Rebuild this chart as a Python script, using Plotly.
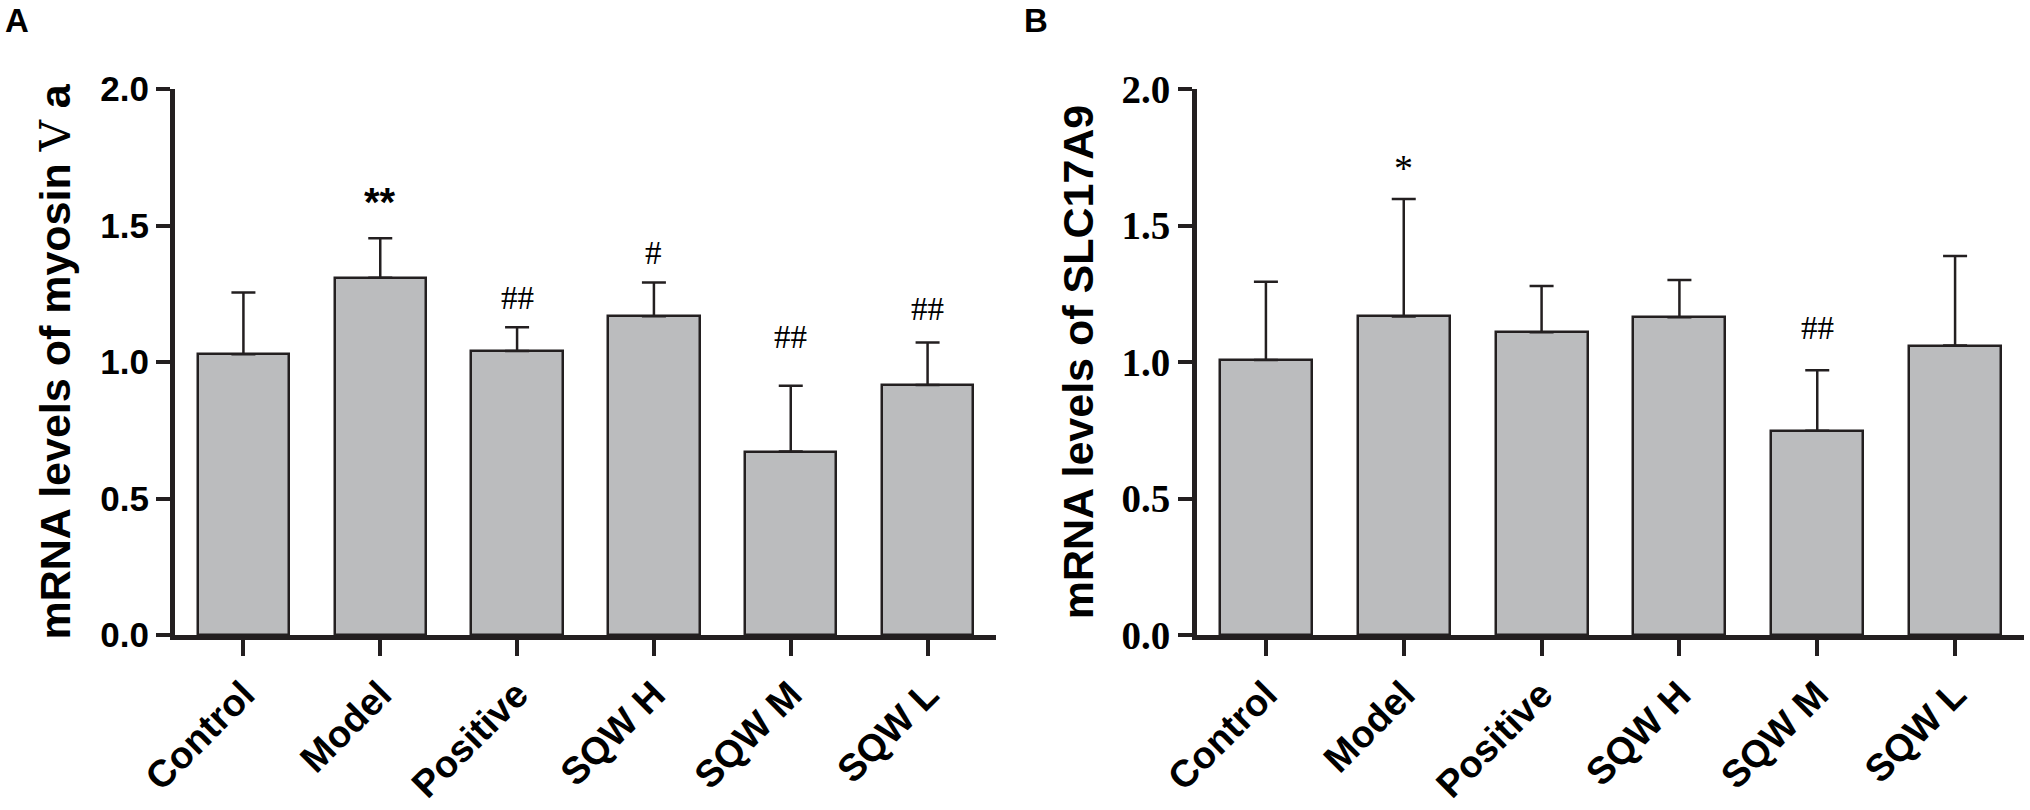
import plotly.graph_objects as go

# ---------------- data ----------------
categories = ["Control", "Model", "Positive", "SQW H", "SQW M", "SQW L"]

myosin_mean = [1.028, 1.309, 1.040, 1.168, 0.672, 0.916]
myosin_err = [0.227, 0.144, 0.087, 0.123, 0.241, 0.155]
myosin_marks = ["", "**", "##", "#", "##", "##"]
myosin_mark_y = [0, 1.587, 1.234, 1.399, 1.093, 1.194]

slc_mean = [1.007, 1.167, 1.109, 1.164, 0.748, 1.060]
slc_err = [0.287, 0.430, 0.169, 0.136, 0.222, 0.328]
slc_marks = ["", "*", "", "", "##", ""]
slc_mark_y = [0, 1.710, 0, 0, 1.123, 0]

y_ticks = [0, 0.5, 1.0, 1.5, 2.0]
title_a = "mRNA levels of myosin <span style=\"font-family:'DejaVu Serif','Liberation Serif',serif;font-weight:normal\">Ⅴ</span> a"
title_b = "mRNA levels of SLC17A9"

# ---------------- style ----------------
W, H = 2030, 810
BAR = "#BBBCBE"
INK = "#231F20"
SANS = "Liberation Sans, Arial, sans-serif"
SERIF = "Liberation Serif, Times New Roman, serif"


def px_x(p):
    return p / W


def px_y(p):
    return 1 - p / H


fig = go.Figure()

for mean, err, xa, ya in [(myosin_mean, myosin_err, "x", "y"), (slc_mean, slc_err, "x2", "y2")]:
    fig.add_trace(go.Bar(
        x=categories, y=mean, width=0.667,
        marker=dict(color=BAR, line=dict(color=INK, width=2.5)),
        error_y=dict(type="data", array=err, arrayminus=[0] * len(err), symmetric=False,
                     color=INK, thickness=2.5, width=12),
        xaxis=xa, yaxis=ya, showlegend=False, hoverinfo="skip",
    ))

y_dom = [px_y(635), px_y(89)]

xcommon = dict(
    type="category", range=[-0.5, 5.5], showgrid=False, zeroline=False,
    showline=True, linewidth=5, linecolor=INK, automargin=False,
    ticks="outside", ticklen=16, tickwidth=4, tickcolor=INK, ticklabelstandoff=1,
    tickangle=-45, tickfont=dict(family=SANS, size=38, color="black", weight="bold"),
)
ycommon = dict(
    range=[0, 2.0], tickvals=y_ticks, tickformat=".1f", showgrid=False, zeroline=False,
    showline=True, linewidth=5, linecolor=INK, automargin=False,
    ticks="outside", ticklen=14, tickwidth=4, tickcolor=INK,
)

fig.update_layout(
    width=W, height=H, margin=dict(l=0, r=0, t=0, b=0, pad=0), autosize=False,
    paper_bgcolor="white", plot_bgcolor="white", bargap=0,
    xaxis=dict(domain=[px_x(175), px_x(996)], anchor="y", **xcommon),
    yaxis=dict(domain=y_dom, anchor="x", **ycommon,
               tickfont=dict(family=SANS, size=35, color="black", weight="bold"),
               title=dict(text=title_a, font=dict(family=SANS, size=43, color="black", weight="bold"),
                          standoff=18)),
    xaxis2=dict(domain=[px_x(1197), px_x(2024)], anchor="y2", **xcommon),
    yaxis2=dict(domain=y_dom, anchor="x2", **ycommon,
                tickfont=dict(family=SERIF, size=39, color="black", weight="bold"),
                title=dict(text=title_b, font=dict(family=SANS, size=43, color="black", weight="bold"),
                           standoff=16)),
)

annotations = []
for marks, ys, xr, yr in [(myosin_marks, myosin_mark_y, "x", "y"), (slc_marks, slc_mark_y, "x2", "y2")]:
    for cat, m, yv in zip(categories, marks, ys):
        if not m:
            continue
        if "*" in m:
            fnt = dict(family=SANS, size=40, color="black", weight="bold") if xr == "x" else dict(family=SERIF, size=38, color="black")
        else:
            fnt = dict(family=SERIF, size=33, color="black")
        annotations.append(dict(x=cat, y=yv, xref=xr, yref=yr, text=m, showarrow=False,
                                xanchor="center", yanchor="middle", font=fnt))

for label, x0 in [("A", 3), ("B", 1022)]:
    annotations.append(dict(x=px_x(x0), y=px_y(20), xref="paper", yref="paper", text=label,
                            showarrow=False, xanchor="left", yanchor="middle",
                            font=dict(family=SANS, size=33, color="black", weight="bold")))

fig.update_layout(annotations=annotations)

fig.write_html("out.html", config={"displayModeBar": False},
               post_script="document.body.style.margin='0';document.body.style.overflow='hidden';")
